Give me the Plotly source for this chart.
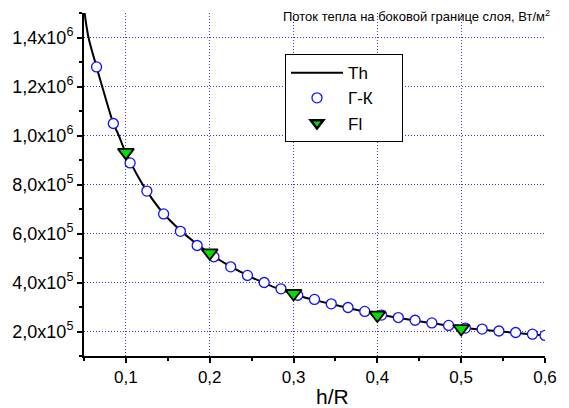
import plotly.graph_objects as go

# ---- data ----
gk_x = [0.065, 0.085, 0.105, 0.125, 0.145, 0.165, 0.185, 0.205, 0.225, 0.245,
        0.265, 0.285, 0.305, 0.325, 0.345, 0.365, 0.385, 0.405, 0.425, 0.445,
        0.465, 0.485, 0.505, 0.525, 0.545, 0.565, 0.585, 0.6]
gk_y = [1.280e6, 1.049e6, 0.888e6, 0.773e6, 0.680e6, 0.609e6, 0.551e6, 0.505e6,
        0.464e6, 0.429e6, 0.400e6, 0.374e6, 0.348e6, 0.331e6, 0.313e6, 0.298e6,
        0.282e6, 0.267e6, 0.257e6, 0.246e6, 0.235e6, 0.225e6, 0.214e6, 0.210e6,
        0.202e6, 0.196e6, 0.189e6, 0.184e6]

fl_x = [0.1, 0.2, 0.3, 0.4, 0.5]
fl_y = [0.931e6, 0.521e6, 0.355e6, 0.267e6, 0.212e6]

th_x = [0.05, 0.0554, 0.065, 0.0717, 0.085, 0.0915, 0.1, 0.125, 0.15, 0.2,
        0.25, 0.3, 0.35, 0.4, 0.45, 0.5, 0.55, 0.6]
th_y = [1.52e6, 1.40e6, 1.28e6, 1.20e6, 1.05e6, 1.00e6, 0.928e6, 0.773e6,
        0.662e6, 0.518e6, 0.421e6, 0.352e6, 0.308e6, 0.270e6, 0.242e6,
        0.216e6, 0.199e6, 0.184e6]

x_ticks = [0.1, 0.2, 0.3, 0.4, 0.5, 0.6]
x_ticktext = ["0,1", "0,2", "0,3", "0,4", "0,5", "0,6"]
y_ticks = [2e5, 4e5, 6e5, 8e5, 1e6, 1.2e6, 1.4e6]
y_ticktext = ["2,0x10<sup>5</sup>", "4,0x10<sup>5</sup>", "6,0x10<sup>5</sup>",
              "8,0x10<sup>5</sup>", "1,0x10<sup>6</sup>", "1,2x10<sup>6</sup>",
              "1,4x10<sup>6</sup>"]

title_text = "Поток тепла на боковой границе слоя, Вт/м<sup>2</sup>"
x_title = "h/R"
pad = "\u00a0" * 5

fig = go.Figure()
fig.add_trace(go.Scatter(x=th_x, y=th_y, mode="lines", name="Th" + pad,
                         line=dict(color="black", width=2, shape="spline", smoothing=1.0)))
fig.add_trace(go.Scatter(x=gk_x, y=gk_y, mode="markers", name="Г-К" + pad,
                         marker=dict(symbol="circle", size=10, color="white",
                                     line=dict(color="#1010ff", width=1.3))))
fig.add_trace(go.Scatter(x=fl_x, y=fl_y, mode="markers", name="Fl" + pad,
                         marker=dict(symbol="triangle-down", size=14, color="#00e000",
                                     line=dict(color="black", width=1.8)),
                         showlegend=False))
# legend-only Fl entry with the smaller legend symbol
fig.add_trace(go.Scatter(x=[None], y=[None], mode="markers", name="Fl" + pad,
                         marker=dict(symbol="triangle-down", size=11, color="#00e000",
                                     line=dict(color="black", width=2.5))))

grid_col = "rgb(60,60,200)"
fig.update_xaxes(range=[0.05, 0.6], tickvals=x_ticks, ticktext=x_ticktext,
                 showline=True, linecolor="black", linewidth=2,
                 ticks="outside", ticklen=5, tickwidth=2, tickcolor="black",
                 minor=dict(dtick=0.05, tick0=0.05, ticks="outside", ticklen=3,
                            tickwidth=2, tickcolor="black", showgrid=False),
                 showgrid=True, gridcolor=grid_col, griddash="1px,2px", gridwidth=1,
                 zeroline=False, tickfont=dict(size=17, color="black"))
fig.update_yaxes(range=[1e5, 1.5e6], tickvals=y_ticks, ticktext=y_ticktext,
                 showline=True, linecolor="black", linewidth=2,
                 ticks="outside", ticklen=5, tickwidth=2, tickcolor="black",
                 minor=dict(dtick=1e5, tick0=1e5, ticks="outside", ticklen=3,
                            tickwidth=2, tickcolor="black", showgrid=False),
                 showgrid=True, gridcolor=grid_col, griddash="1px,2px", gridwidth=1,
                 zeroline=False, tickfont=dict(size=18, color="black"))

fig.add_annotation(text=title_text, xref="paper", yref="paper",
                   x=0.428, y=0.99, xanchor="left", yanchor="middle",
                   showarrow=False, font=dict(size=13, color="black"))
fig.add_annotation(text=x_title, xref="paper", yref="paper",
                   x=0.538, y=-0.118, xanchor="center", yanchor="middle",
                   showarrow=False, font=dict(size=21, color="black"))

fig.update_layout(
    width=569, height=408,
    margin=dict(l=83, r=14, t=13, b=52),
    paper_bgcolor="white", plot_bgcolor="white",
    font=dict(family="Liberation Sans, Arial, sans-serif", color="black"),
    legend=dict(x=0.436, y=0.88, xanchor="left", yanchor="top",
                bgcolor="white", bordercolor="black", borderwidth=1,
                font=dict(size=17, color="black"), tracegroupgap=0,
                itemwidth=52),
)

fig.write_html("out.html", config={"displayModeBar": False},
               post_script="document.body.style.margin='0';")
